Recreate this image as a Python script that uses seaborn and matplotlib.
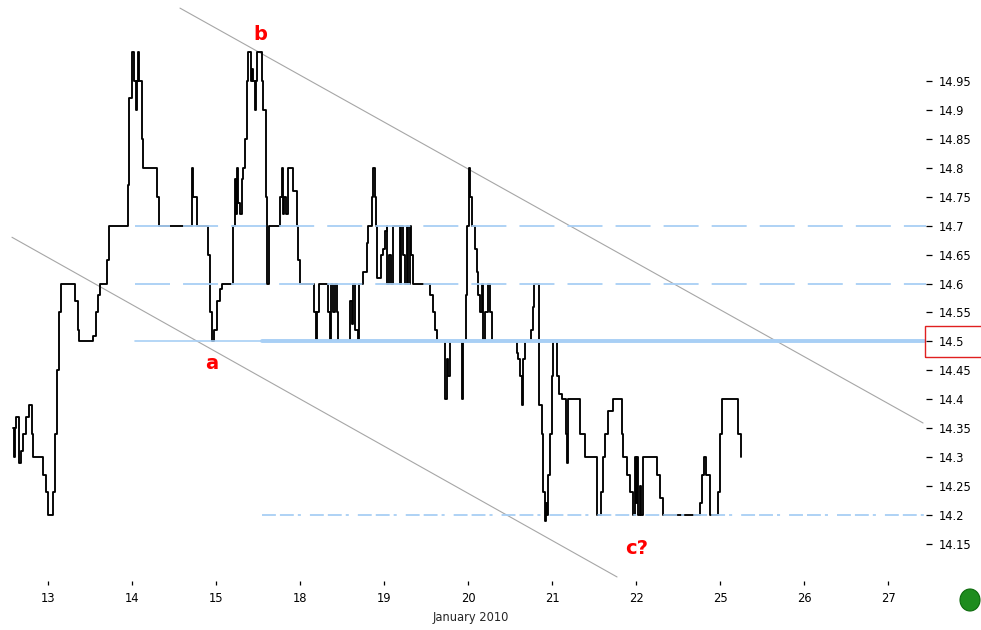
import matplotlib
matplotlib.use("Agg")
import matplotlib.pyplot as plt
import matplotlib.transforms as mtransforms
from matplotlib.patches import Rectangle, Ellipse
import seaborn as sns
import pandas as pd

# ---------------- data ----------------
day_labels = ['13', '14', '15', '18', '19', '20', '21', '22', '25', '26', '27']
day_pos = list(range(len(day_labels)))

# time in trading-day units (0 = Jan 13), price
t = [-0.420, -0.405, -0.393, -0.375, -0.351, -0.321, -0.298, -0.262, -0.232, -0.196,
     -0.182, -0.056, -0.024, 0.004, 0.063, 0.083, 0.111, 0.135, 0.151, 0.321,
     0.361, 0.373, 0.539, 0.571, 0.599, 0.619, 0.706, 0.730, 0.949, 0.964,
     1.000, 1.024, 1.048, 1.060, 1.075, 1.087, 1.115, 1.135, 1.294, 1.325,
     1.711, 1.726, 1.770, 1.901, 1.929, 1.952, 1.976, 2.012, 2.048, 2.068,
     2.206, 2.226, 2.238, 2.250, 2.262, 2.286, 2.310, 2.325, 2.345, 2.369,
     2.385, 2.413, 2.429, 2.444, 2.464, 2.476, 2.492, 2.544, 2.556, 2.595,
     2.613, 2.625, 2.762, 2.782, 2.798, 2.815, 2.833, 2.857, 2.917, 2.964,
     2.980, 3.000, 3.167, 3.190, 3.206, 3.226, 3.330, 3.357, 3.373, 3.393,
     3.417, 3.437, 3.456, 3.595, 3.615, 3.635, 3.655, 3.687, 3.706, 3.750,
     3.798, 3.813, 3.857, 3.873, 3.893, 3.905, 3.917, 3.964, 3.988, 4.012,
     4.030, 4.036, 4.060, 4.083, 4.107, 4.190, 4.208, 4.226, 4.250, 4.268,
     4.286, 4.310, 4.327, 4.345, 4.548, 4.583, 4.607, 4.635, 4.726, 4.746,
     4.765, 4.786, 4.925, 4.944, 4.973, 4.992, 5.012, 5.024, 5.048, 5.083,
     5.104, 5.123, 5.143, 5.161, 5.179, 5.202, 5.238, 5.256, 5.286, 5.580,
     5.599, 5.619, 5.639, 5.658, 5.679, 5.746, 5.770, 5.789, 5.842, 5.877,
     5.896, 5.917, 5.929, 5.940, 5.956, 5.976, 5.996, 6.015, 6.056, 6.087,
     6.115, 6.163, 6.182, 6.194, 6.333, 6.393, 6.532, 6.583, 6.607, 6.631,
     6.667, 6.723, 6.830, 6.849, 6.889, 6.929, 6.968, 6.982, 7.000, 7.012,
     7.024, 7.048, 7.060, 7.087, 7.246, 7.286, 7.325, 7.762, 7.782, 7.810,
     7.833, 7.881, 7.980, 8.000, 8.020, 8.218, 8.246]
price = [14.35, 14.30, 14.35, 14.37, 14.29, 14.31, 14.34, 14.37, 14.39, 14.34,
         14.30, 14.27, 14.24, 14.20, 14.24, 14.34, 14.45, 14.55, 14.60, 14.57,
         14.52, 14.50, 14.51, 14.55, 14.58, 14.60, 14.64, 14.70, 14.77, 14.92,
         15.00, 14.95, 14.90, 14.95, 15.00, 14.95, 14.85, 14.80, 14.75, 14.70,
         14.80, 14.75, 14.70, 14.65, 14.55, 14.50, 14.52, 14.57, 14.59, 14.60,
         14.70, 14.78, 14.72, 14.80, 14.74, 14.72, 14.78, 14.80, 14.85, 14.95,
         15.00, 14.95, 14.97, 14.95, 14.90, 14.95, 15.00, 14.95, 14.90, 14.75,
         14.60, 14.70, 14.75, 14.80, 14.72, 14.75, 14.72, 14.80, 14.76, 14.70,
         14.64, 14.60, 14.55, 14.50, 14.55, 14.60, 14.55, 14.50, 14.60, 14.55,
         14.60, 14.55, 14.50, 14.57, 14.53, 14.60, 14.52, 14.50, 14.60, 14.62,
         14.67, 14.70, 14.75, 14.80, 14.75, 14.70, 14.61, 14.65, 14.66, 14.69,
         14.70, 14.60, 14.65, 14.60, 14.70, 14.60, 14.70, 14.65, 14.60, 14.70,
         14.60, 14.70, 14.65, 14.60, 14.58, 14.55, 14.52, 14.50, 14.40, 14.47,
         14.44, 14.50, 14.40, 14.50, 14.58, 14.70, 14.80, 14.75, 14.70, 14.66,
         14.62, 14.58, 14.55, 14.60, 14.50, 14.55, 14.60, 14.55, 14.50, 14.48,
         14.47, 14.44, 14.39, 14.47, 14.50, 14.52, 14.56, 14.60, 14.39, 14.34,
         14.24, 14.19, 14.22, 14.20, 14.27, 14.34, 14.44, 14.50, 14.44, 14.41,
         14.40, 14.34, 14.29, 14.40, 14.34, 14.30, 14.20, 14.24, 14.30, 14.34,
         14.38, 14.40, 14.34, 14.30, 14.27, 14.24, 14.20, 14.30, 14.22, 14.30,
         14.20, 14.25, 14.20, 14.30, 14.27, 14.23, 14.20, 14.22, 14.27, 14.30,
         14.27, 14.20, 14.24, 14.34, 14.40, 14.34, 14.30]

y_ticks = [14.15, 14.2, 14.25, 14.3, 14.35, 14.4, 14.45, 14.5, 14.55, 14.6,
           14.65, 14.7, 14.75, 14.8, 14.85, 14.9, 14.95]

# horizontal levels: price, start time
dash_levels = [14.7, 14.6]
dash_start = [1.036, 1.036]
solid_level = 14.5
solid_start = [1.036, 2.548]
support_level = 14.2
support_start = 2.548

# channel trend lines (time, price endpoints)
upper_t = [1.571, 10.417]
upper_v = [15.076, 14.359]
lower_t = [-0.429, 6.774]
lower_v = [14.680, 14.093]

wave_labels = ['a', 'b', 'c?']
wave_t = [1.952, 2.524, 7.012]
wave_v = [14.462, 15.031, 14.143]

highlight_price = 14.5

# ---------------- figure ----------------
sns.set_style('white')
plt.rcParams['font.family'] = ['DejaVu Sans']
plt.rcParams['lines.scale_dashes'] = False

W, H = 981, 630
fig = plt.figure(figsize=(W / 100, H / 100), dpi=100)
ax = fig.add_axes([0, (H - 581) / H, 926 / W, 581 / H])

xmin, xmax = -0.5714, 10.452
ymin, ymax = 14.086, 15.090
ax.set_xlim(xmin, xmax)
ax.set_ylim(ymin, ymax)

df = pd.DataFrame({'t': t, 'price': price})
sns.lineplot(data=df, x='t', y='price', ax=ax, color='black', lw=1.35,
             drawstyle='steps-post', estimator=None, sort=False, zorder=3)

blue = '#a8cff5'
for lv, st in zip(dash_levels, dash_start):
    ax.plot([st, xmax], [lv, lv], color=blue, lw=1.3,
            dashes=(25.2, 9.4), zorder=4, solid_capstyle='butt')
ax.plot([solid_start[0], xmax], [solid_level] * 2, color=blue, lw=1.2, zorder=4)
ax.plot([solid_start[1], xmax], [solid_level] * 2, color=blue, lw=2.8, zorder=4)
ax.plot([support_start, xmax], [support_level] * 2, color=blue, lw=1.3,
        dashes=(10, 2.9, 10, 2.9, 2.2, 6.5), zorder=4)

ax.plot(upper_t, upper_v, color='#a6a6a6', lw=0.8, zorder=2)
ax.plot(lower_t, lower_v, color='#a6a6a6', lw=0.8, zorder=2)

for lab, wt, wv in zip(wave_labels, wave_t, wave_v):
    ax.text(wt, wv, lab, color='#ff0000', fontsize=14, fontweight='bold',
            ha='center', va='center', zorder=6)

# axes styling
for sp in ax.spines.values():
    sp.set_visible(False)
ax.yaxis.tick_right()
ax.set_yticks(y_ticks)
ax.set_yticklabels([f'{v:g}' for v in y_ticks])
ax.set_xticks(day_pos)
ax.set_xticklabels(day_labels)
ax.tick_params(axis='y', which='both', right=True, left=False, direction='out',
               length=4.3, width=0.9, pad=5, labelsize=8.3, colors='black')
ax.tick_params(axis='x', which='both', bottom=True, direction='out',
               length=3, width=0.9, pad=5, labelsize=8.3, colors='black')
ax.set_xlabel('January 2010', fontsize=8.3)
ax.xaxis.set_label_coords(471 / 926, -(617 - 581) / 581)
ax.xaxis.label.set_va('center')
ax.set_ylabel('')
ax.grid(False)

# red box around highlighted price label
trans = mtransforms.blended_transform_factory(ax.transAxes, ax.transData)
box_h = 31 / 578.75
ax.add_patch(Rectangle((1.0 - 1 / 926, highlight_price - box_h / 2), 60 / 926, box_h,
                       transform=trans, fill=False, edgecolor='#e02020', lw=1.0,
                       clip_on=False, zorder=7))

# green status dot
fig.add_artist(Ellipse((970 / W, 1 - 600 / H), 20 / W, 22 / H,
                       transform=fig.transFigure, facecolor='#1e8c1e',
                       edgecolor='#0c6a0c', lw=0.8))

fig.savefig('out.png', dpi=100)
